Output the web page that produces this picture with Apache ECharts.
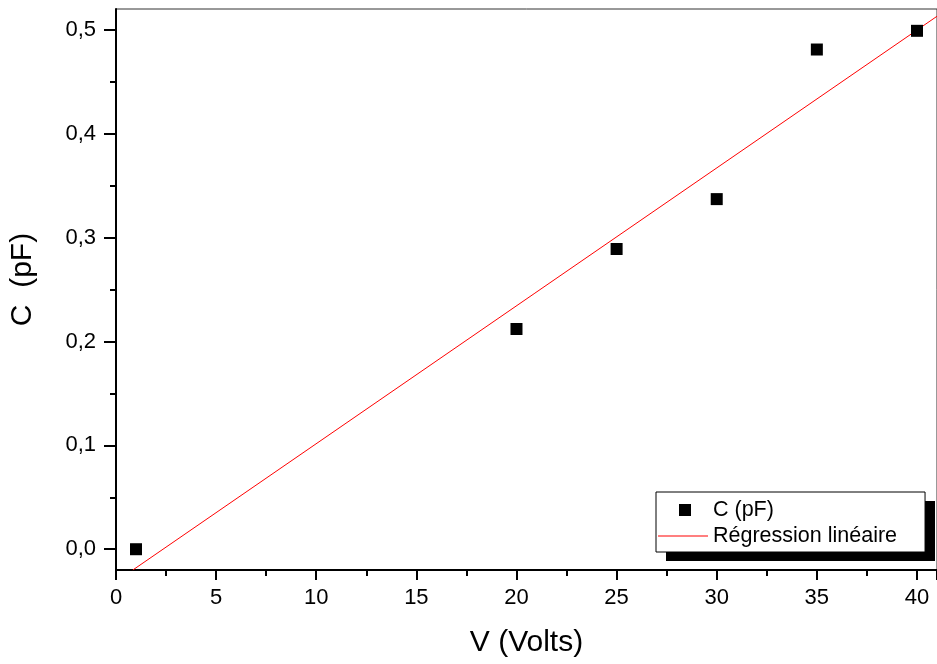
<!DOCTYPE html>
<html><head><meta charset="utf-8">
<script src="https://cdn.jsdelivr.net/npm/echarts@6/dist/echarts.min.js"></script>
<style>html,body{margin:0;padding:0;background:#fff}#c{width:937px;height:664px}</style>
</head><body><div id="c"></div>
<script>
// Data
const voltages = [1, 20, 25, 30, 35, 40];
const capacitance = [0.000, 0.212, 0.289, 0.337, 0.481, 0.499];
const fitLine = [[0.84, -0.02], [41.0, 0.513]];   // red regression line end points
const yMajorTicks = [0.0, 0.1, 0.2, 0.3, 0.4, 0.5];
const yMinorTicks = [0.05, 0.15, 0.25, 0.35, 0.45];
const seriesNames = ['C (pF)', 'Régression linéaire'];

const FONT = "'Liberation Sans', Arial, sans-serif";
const chart = echarts.init(document.getElementById('c'), null, {renderer: 'canvas'});
const yRange = {min: -0.02, max: 0.52};
chart.setOption({
  animation: false,
  backgroundColor: '#fff',
  grid: {left: 115, right: 0, top: 9, bottom: 94, show: true, borderColor: '#333', borderWidth: 1, backgroundColor: 'transparent'},
  graphic: [{
    type: 'rect', z: 1, silent: true,
    shape: {x: 666, y: 501, width: 269, height: 60},
    style: {fill: '#000'}
  }],
  xAxis: {
    type: 'value', min: 0, max: 41.0, interval: 5,
    name: 'V (Volts)', nameLocation: 'middle', nameGap: 58,
    nameTextStyle: {fontFamily: FONT, fontSize: 30, color: '#000'},
    axisLine: {onZero: false, lineStyle: {color: '#000', width: 2}},
    axisTick: {show: true, length: 10, lineStyle: {color: '#000', width: 2}},
    minorTick: {show: true, splitNumber: 2, length: 6, lineStyle: {color: '#000', width: 2}},
    splitLine: {show: false},
    axisLabel: {fontFamily: FONT, fontSize: 22, color: '#000', margin: 17,
      formatter: v => (Math.abs(v - Math.round(v)) < 1e-9 ? String(Math.round(v)) : '')}
  },
  yAxis: [{
    type: 'value', min: yRange.min, max: yRange.max,
    name: 'C  (pF)', nameLocation: 'middle', nameGap: 78, nameRotate: 90,
    nameTextStyle: {fontFamily: FONT, fontSize: 30, color: '#000', padding: [0, 0, 0, 20]},
    axisLine: {onZero: false, lineStyle: {color: '#000', width: 2}},
    axisTick: {show: true, length: 12, customValues: yMajorTicks, lineStyle: {color: '#000', width: 2}},
    splitLine: {show: false},
    axisLabel: {fontFamily: FONT, fontSize: 22, color: '#000', margin: 20, customValues: yMajorTicks,
      formatter: v => v.toFixed(1).replace('.', ',')}
  }, {
    type: 'value', min: yRange.min, max: yRange.max, position: 'left',
    axisLine: {show: false},
    axisTick: {show: true, length: 6, customValues: yMinorTicks, lineStyle: {color: '#000', width: 2}},
    axisLabel: {show: false, customValues: yMinorTicks},
    splitLine: {show: false}
  }],
  legend: {
    orient: 'vertical', left: 656, top: 492, z: 10,
    data: [
      {name: seriesNames[0], icon: 'path://M0,0M50,12M21,0L33,0L33,12L21,12Z'},
      {name: seriesNames[1], icon: 'path://M0,0M50,12M0,5.5L50,5.5L50,6.5L0,6.5Z'}
    ],
    itemWidth: 50, itemHeight: 12, itemGap: 4,
    padding: [7, 28, 5, 2],
    backgroundColor: '#fff', borderColor: '#000', borderWidth: 1,
    textStyle: {fontFamily: FONT, fontSize: 21.5, color: '#000'}
  },
  series: [{
    name: seriesNames[0], type: 'scatter', symbol: 'rect', symbolSize: 12,
    itemStyle: {color: '#000', opacity: 1},
    data: voltages.map((v, i) => [v, capacitance[i]]),
    z: 3
  }, {
    name: seriesNames[1], type: 'line', showSymbol: false, symbol: 'none',
    lineStyle: {color: '#ff0000', width: 1}, itemStyle: {color: '#ff0000'},
    data: fitLine, clip: true, z: 2
  }]
});
</script></body></html>
